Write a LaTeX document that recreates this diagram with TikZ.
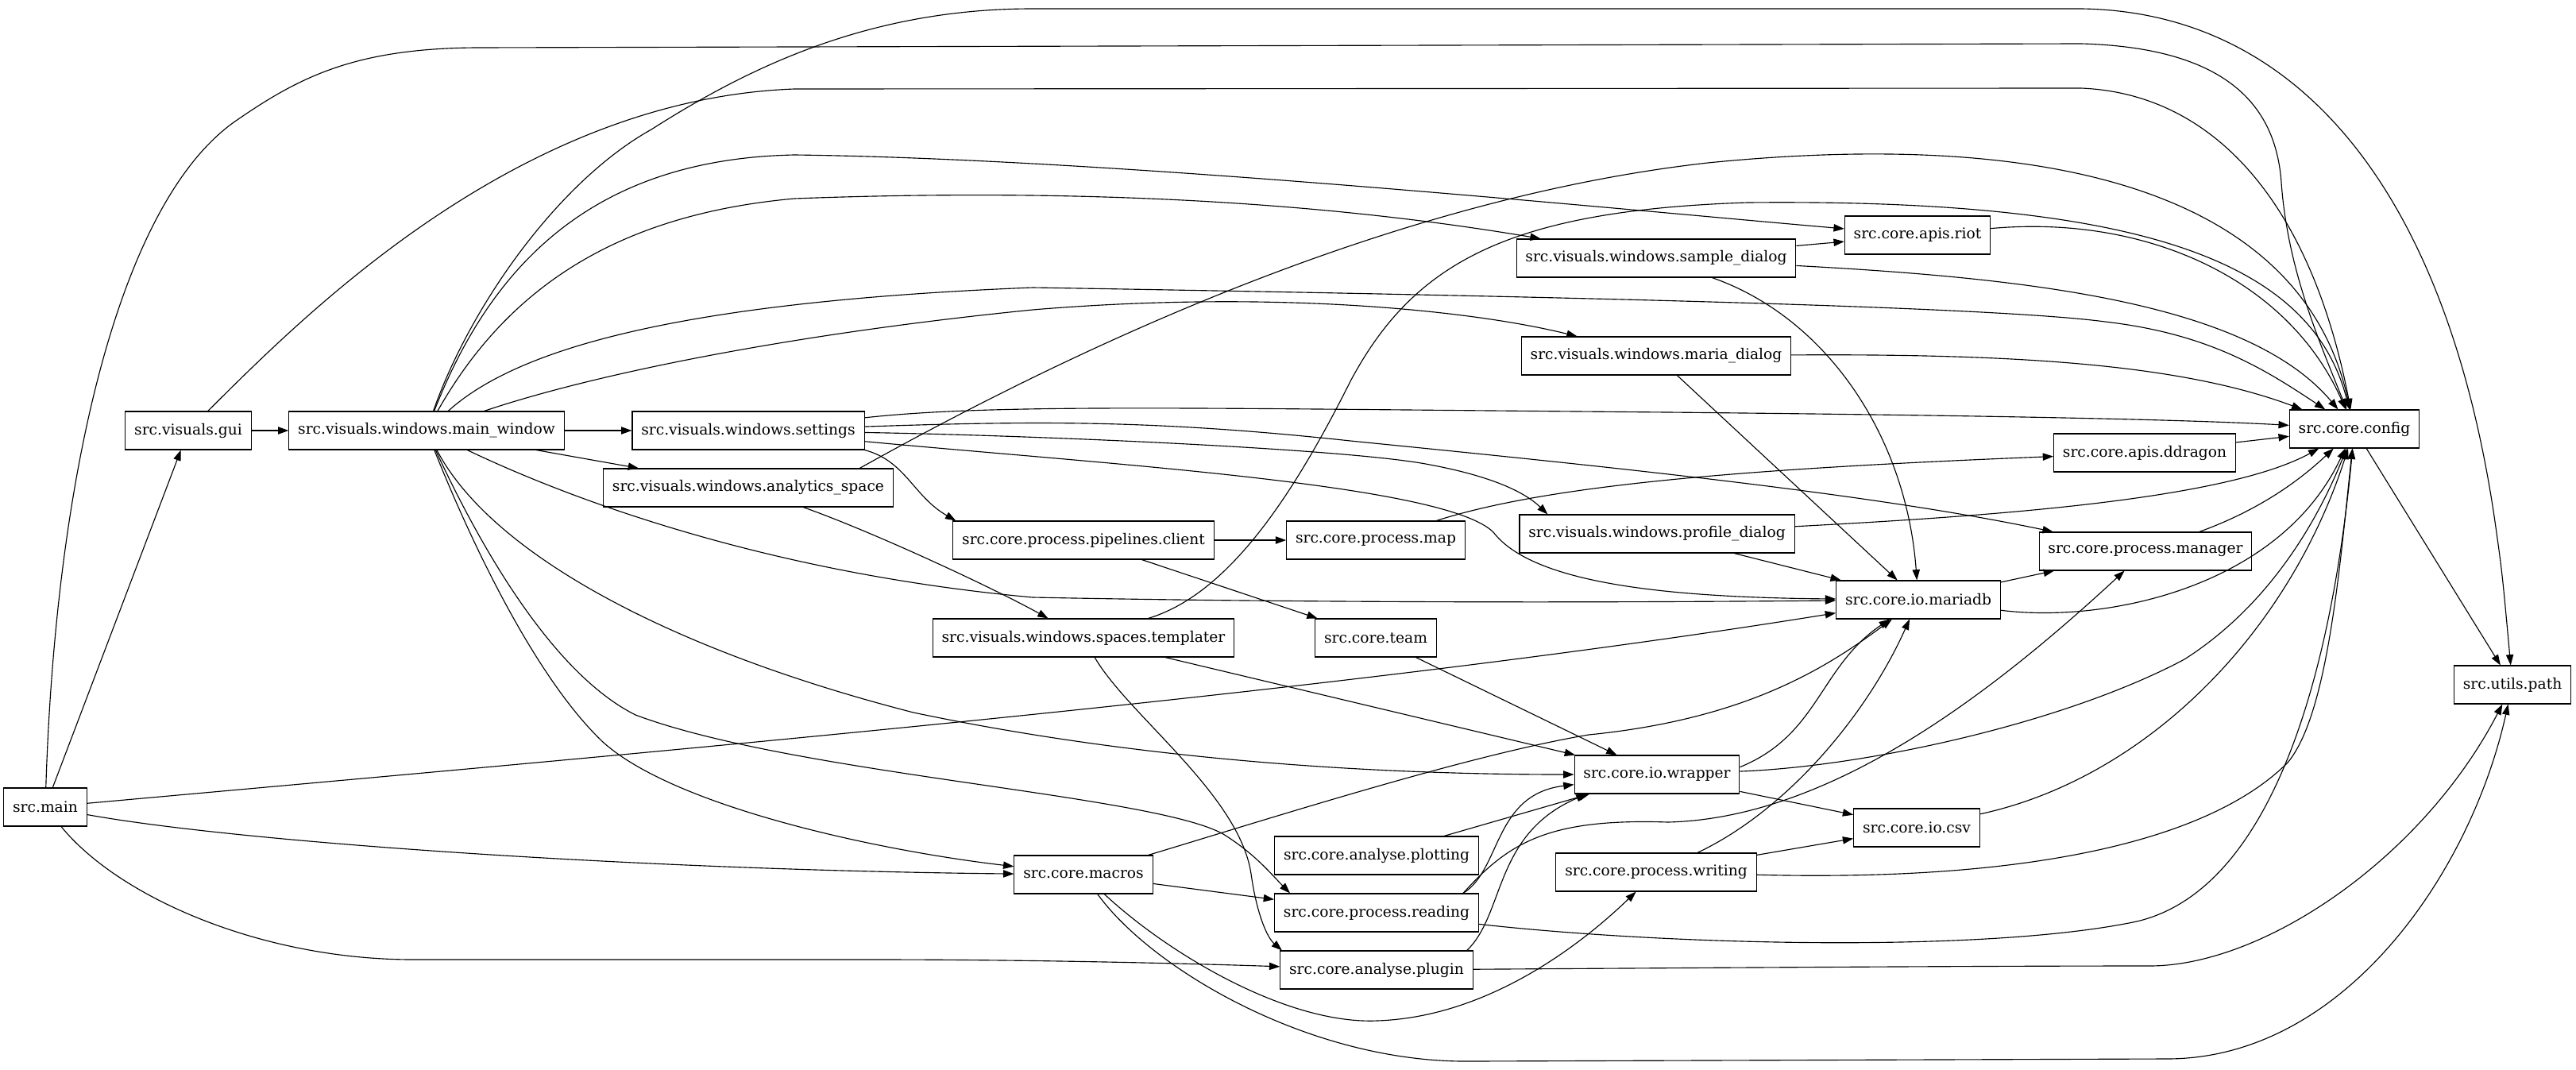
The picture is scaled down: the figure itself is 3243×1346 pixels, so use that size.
\documentclass[tikz,border=0pt]{standalone}
\usepackage{fontspec}
\setmainfont{DejaVu Serif}
\usepackage{tikz}
\usetikzlibrary{arrows.meta}

\begin{document}
\begin{tikzpicture}[
  x=0.75pt, y=-0.75pt,
  mod/.style={rectangle, draw=black, line width=0.8pt, fill=white,
    minimum height=36pt, inner xsep=8.5pt, inner ysep=0pt,
    font=\fontsize{14pt}{16pt}\selectfont},
  dep/.style={-{Triangle[length=10pt, width=7pt]}, line width=0.85pt, draw=black}
]
\useasboundingbox (0,0) rectangle (3243,1346);

%% ── Rank 0-2: entry, gui, main window ───────────────────────────────────────
\node[mod] (main)     at (57,1016) {src.main};
\node[mod] (gui)      at (237,542) {src.visuals.gui};
\node[mod] (main_win) at (537,542) {src.visuals.windows.main\_window};

%% ── Rank 3: settings / analytics ────────────────────────────────────────────
\node[mod] (settings)  at (942,542) {src.visuals.windows.settings};
\node[mod] (analytics) at (942,614) {src.visuals.windows.analytics\_space};

%% ── Rank 4 ───────────────────────────────────────────────────────────────────
\node[mod] (pipe_client) at (1364,680)  {src.core.process.pipelines.client};
\node[mod] (templater)   at (1364,803)  {src.visuals.windows.spaces.templater};
\node[mod] (macros)      at (1364,1101) {src.core.macros};

%% ── Rank 5 ───────────────────────────────────────────────────────────────────
\node[mod] (proc_map) at (1732,680)  {src.core.process.map};
\node[mod] (team)     at (1732,803)  {src.core.team};
\node[mod] (plotting) at (1733,1077) {src.core.analyse.plotting};
\node[mod] (reading)  at (1733,1149) {src.core.process.reading};
\node[mod] (plugin)   at (1733,1221) {src.core.analyse.plugin};

%% ── Rank 6 ───────────────────────────────────────────────────────────────────
\node[mod] (sample_dlg)  at (2085,325)  {src.visuals.windows.sample\_dialog};
\node[mod] (maria_dlg)   at (2085,448)  {src.visuals.windows.maria\_dialog};
\node[mod] (profile_dlg) at (2086,672)  {src.visuals.windows.profile\_dialog};
\node[mod] (wrapper)     at (2086,975)  {src.core.io.wrapper};
\node[mod] (writing)     at (2085,1098) {src.core.process.writing};

%% ── Rank 7 ───────────────────────────────────────────────────────────────────
\node[mod] (riot)    at (2414,296)  {src.core.apis.riot};
\node[mod] (mariadb) at (2415,755)  {src.core.io.mariadb};
\node[mod] (io_csv)  at (2413,1042) {src.core.io.csv};

%% ── Rank 8-10 ────────────────────────────────────────────────────────────────
\node[mod] (ddragon)    at (2700,570) {src.core.apis.ddragon};
\node[mod] (manager)    at (2701,694) {src.core.process.manager};
\node[mod] (config)     at (2964,540) {src.core.config};
\node[mod] (utils_path) at (3163,862) {src.utils.path};

%% ── src.main ─────────────────────────────────────────────────────────────────
\draw[dep] (main) -- (gui);
\draw[dep] (main) .. controls (70,600) and (150,250) .. (300,150)
  .. controls (380,95) and (450,61) .. (600,60) -- (2620,55)
  .. controls (2800,60) and (2865,130) .. (2872,230)
  .. controls (2880,340) and (2920,430) .. (config);
\draw[dep] (main) .. controls (900,940) and (1700,870) .. (mariadb);
\draw[dep] (main) .. controls (300,1060) and (800,1095) .. (macros);
\draw[dep] (main) .. controls (150,1130) and (330,1208) .. (520,1208) -- (1100,1208)
  .. controls (1300,1208) and (1500,1213) .. (plugin);

%% ── gui ──────────────────────────────────────────────────────────────────────
\draw[dep] (gui) -- (main_win);
\draw[dep] (gui) .. controls (380,400) and (650,125) .. (1000,112) -- (2620,111)
  .. controls (2790,118) and (2910,260) .. (config);

%% ── main window ──────────────────────────────────────────────────────────────
\draw[dep] (main_win) -- (settings);
\draw[dep] (main_win) -- (analytics);
\draw[dep] (main_win) .. controls (590,390) and (700,230) .. (820,163)
  .. controls (950,80) and (1100,11) .. (1300,11) -- (2620,11)
  .. controls (2900,15) and (3080,250) .. (3140,650)
  .. controls (3150,720) .. (utils_path);
\draw[dep] (main_win) .. controls (620,330) and (750,200) .. (1000,195)
  .. controls (1400,200) and (2000,260) .. (riot);
\draw[dep] (main_win) .. controls (640,360) and (780,270) .. (1000,250)
  .. controls (1400,235) and (1700,260) .. (sample_dlg);
\draw[dep] (main_win) .. controls (650,440) and (850,380) .. (1300,362)
  .. controls (1900,372) and (2500,385) .. (2650,405)
  .. controls (2780,420) and (2850,464) .. (config);
\draw[dep] (main_win) .. controls (750,470) and (1000,420) .. (1300,390)
  .. controls (1600,365) and (1850,390) .. (maria_dlg);
\draw[dep] (main_win) .. controls (700,620) and (950,720) .. (1300,752)
  .. controls (1700,760) and (2100,758) .. (mariadb);
\draw[dep] (main_win) .. controls (620,700) and (850,820) .. (1150,897)
  .. controls (1450,960) and (1750,975) .. (wrapper);
\draw[dep] (main_win) .. controls (600,700) and (680,860) .. (760,935)
  .. controls (850,1015) and (1100,1070) .. (macros);
\draw[dep] (main_win) .. controls (610,700) and (700,850) .. (800,900)
  .. controls (1000,975) and (1450,1000) .. (1540,1050)
  .. controls (1580,1075) and (1600,1100) .. ([xshift=15pt]reading.north west);

%% ── settings ─────────────────────────────────────────────────────────────────
\draw[dep] (settings) .. controls (1250,508) and (1500,514) .. (2100,519)
  .. controls (2500,523) and (2750,528) .. (config);
\draw[dep] (settings.south east) .. controls (1140,580) and (1150,625)
  .. ([xshift=3pt]pipe_client.north west);
\draw[dep] (settings) .. controls (1300,548) and (1700,565) .. (1800,585)
  .. controls (1880,600) and (1920,620) .. ([xshift=27pt]profile_dlg.north west);
\draw[dep] (settings) .. controls (1300,530) and (1450,528) .. (1700,555)
  .. controls (2000,585) and (2350,620) .. (manager);
\draw[dep] (settings) .. controls (1400,585) and (1820,610) .. (1880,670)
  .. controls (1930,735) and (2100,752) .. (mariadb);

%% ── analytics space ──────────────────────────────────────────────────────────
\draw[dep] ([xshift=-32pt]analytics.north east) .. controls (1350,440) and (1750,250) .. (2150,205)
  .. controls (2600,160) and (2900,250) .. (config);
\draw[dep] (analytics) .. controls (1100,670) and (1250,740) .. (templater);

%% ── pipelines / map / templater / team ───────────────────────────────────────
\draw[dep] (pipe_client) -- (proc_map);
\draw[dep] (pipe_client) -- (team);
\draw[dep] (proc_map) .. controls (1950,610) and (2200,590) .. (ddragon);
\draw[dep] (templater) .. controls (1540,750) and (1620,640) .. (1700,480)
  .. controls (1780,330) and (1900,265) .. (2200,255)
  .. controls (2700,250) and (2910,330) .. (config);
\draw[dep] (templater) -- (wrapper);
\draw[dep] (templater) .. controls (1420,900) and (1560,1000) .. (1575,1100)
  .. controls (1582,1150) and (1595,1180) .. ([xshift=2pt]plugin.north west);
\draw[dep] (team) -- (wrapper);

%% ── dialogs ──────────────────────────────────────────────────────────────────
\draw[dep] (sample_dlg) -- (riot);
\draw[dep] (sample_dlg) .. controls (2550,350) and (2830,380) .. (config);
\draw[dep] (sample_dlg) .. controls (2300,400) and (2400,550) .. (mariadb);
\draw[dep] (riot) .. controls (2700,270) and (2880,350) .. (config);
\draw[dep] (maria_dlg) .. controls (2550,445) and (2750,460) .. (config);
\draw[dep] (maria_dlg) -- (mariadb);
\draw[dep] (profile_dlg) .. controls (2500,650) and (2800,630) .. (config);
\draw[dep] (profile_dlg) -- (mariadb);

%% ── core ─────────────────────────────────────────────────────────────────────
\draw[dep] (ddragon) -- (config);
\draw[dep] (config) -- (utils_path);
\draw[dep] (manager) .. controls (2850,640) and (2900,600) .. (config);
\draw[dep] (mariadb) -- (manager);
\draw[dep] (mariadb) .. controls (2650,785) and (2870,740) .. (config);

%% ── io ───────────────────────────────────────────────────────────────────────
\draw[dep] ([yshift=7pt]wrapper.east) .. controls (2290,925) and (2290,840) .. (mariadb);
\draw[dep] (wrapper) .. controls (2350,965) and (2600,910) .. (2750,830)
  .. controls (2860,760) and (2920,650) .. (config);
\draw[dep] (wrapper) -- (io_csv);
\draw[dep] (io_csv) .. controls (2700,980) and (2880,800) .. (config);
\draw[dep] (writing) -- (io_csv);
\draw[dep] (writing) .. controls (2550,1110) and (2780,1060) .. (2880,960)
  .. controls (2930,900) and (2945,720) .. (config);
\draw[dep] (writing) .. controls (2250,1020) and (2350,900) .. (mariadb);

%% ── macros ───────────────────────────────────────────────────────────────────
\draw[dep] (macros) .. controls (1600,1030) and (1850,950) .. (2000,925)
  .. controls (2200,905) and (2300,840) .. (mariadb);
\draw[dep] (macros) -- (reading);
\draw[dep] (macros) .. controls (1470,1200) and (1620,1290) .. (1734,1285)
  .. controls (1880,1280) and (2000,1180) .. (writing);
\draw[dep] (macros) .. controls (1450,1220) and (1650,1338) .. (1850,1336) -- (2728,1333)
  .. controls (2950,1333) and (3110,1100) .. (utils_path);

%% ── analyse / process ────────────────────────────────────────────────────────
\draw[dep] (plotting) -- (wrapper);
\draw[dep] ([xshift=-15pt]reading.north east) .. controls (1890,1095) and (1880,1000) .. (wrapper);
\draw[dep] ([xshift=-15pt]reading.north east) .. controls (1900,1060) and (1950,1030) .. (2100,1035)
  .. controls (2300,1030) and (2500,880) .. (manager);
\draw[dep] (reading) .. controls (2100,1190) and (2500,1200) .. (2690,1160)
  .. controls (2860,1120) and (2935,850) .. (config);
\draw[dep] ([xshift=-6pt]plugin.north east) .. controls (1895,1150) and (1880,1050)
  .. ([xshift=12pt]wrapper.south west);
\draw[dep] (plugin) .. controls (2200,1218) and (2500,1216) .. (2706,1216)
  .. controls (2850,1216) and (3050,1080) .. (utils_path);

\end{tikzpicture}
\end{document}
